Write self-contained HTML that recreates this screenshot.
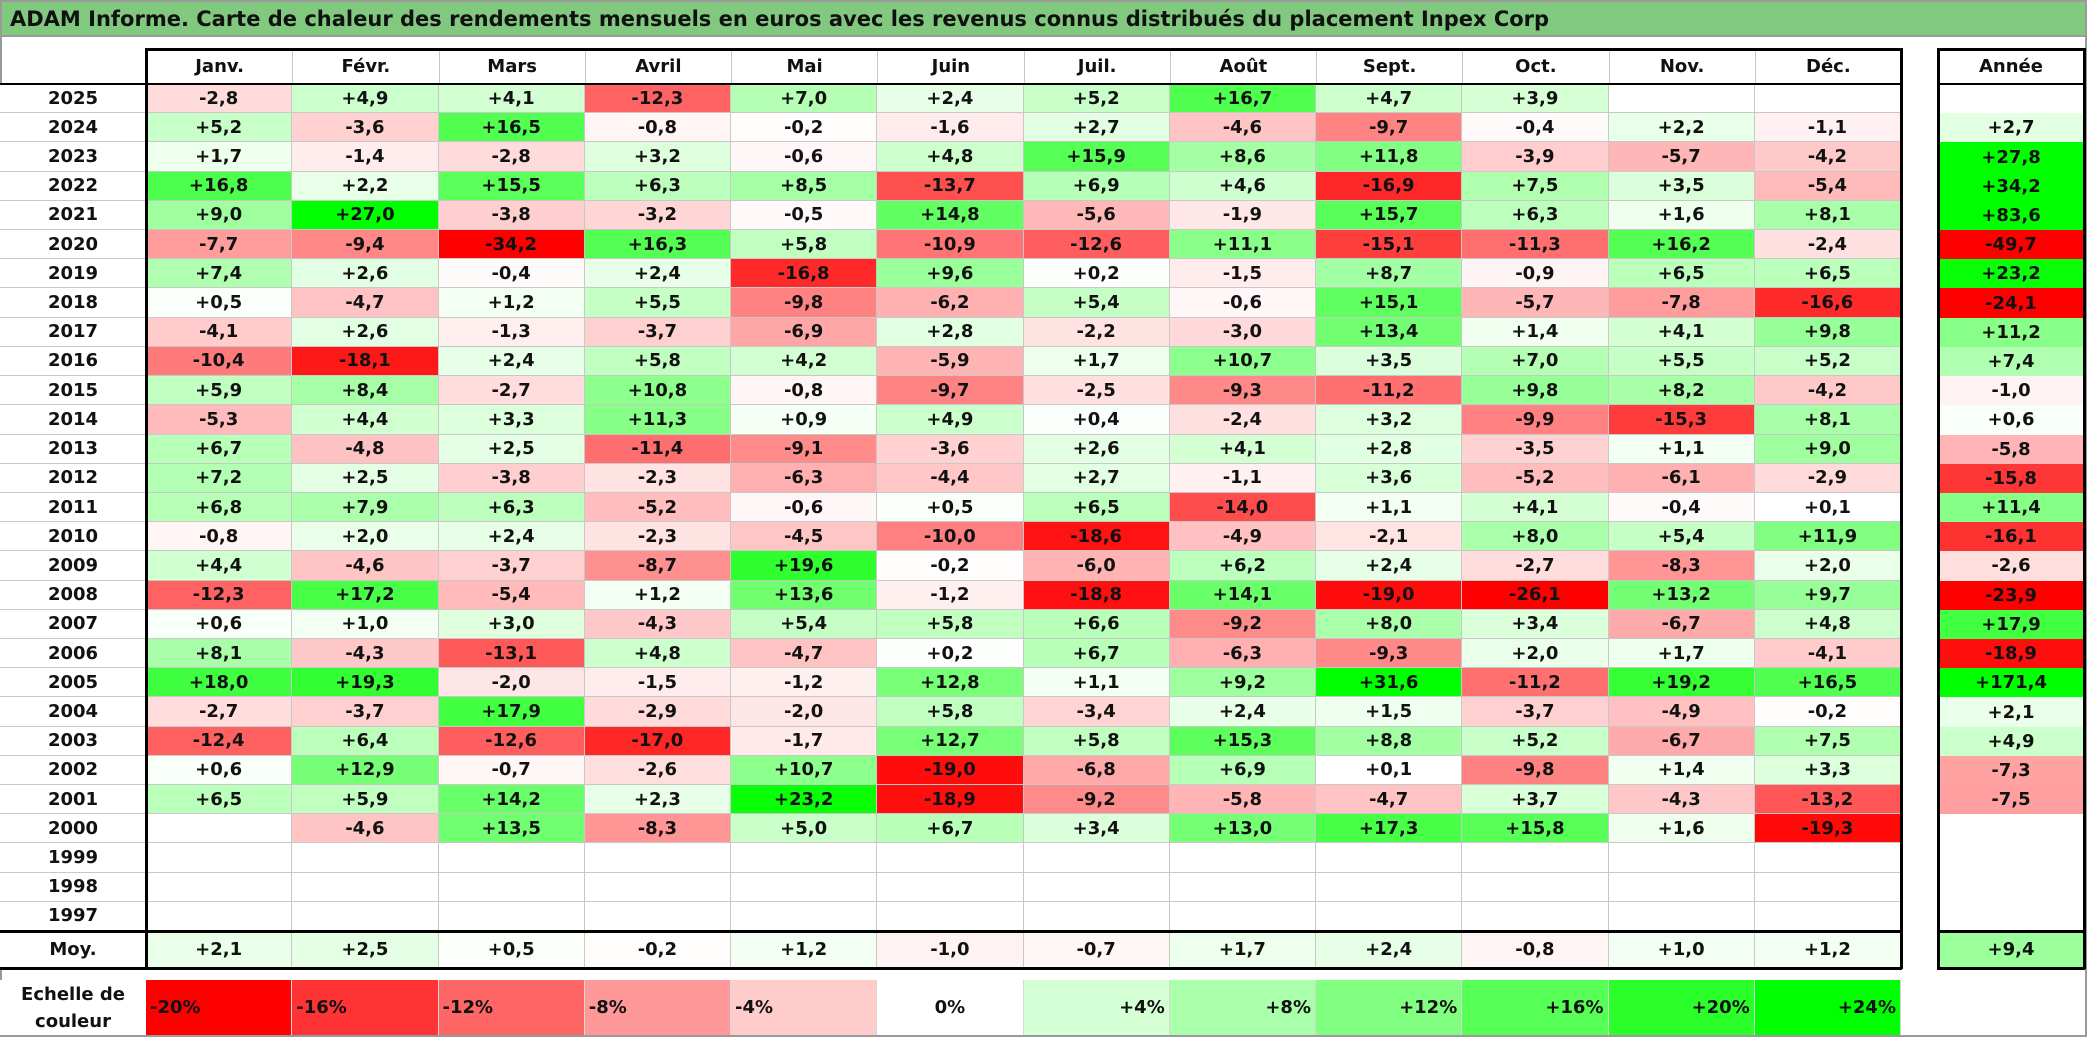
<!DOCTYPE html>
<html><head><meta charset="utf-8">
<style>
html,body{margin:0;padding:0;background:#fff;}
#root{position:relative;width:2087px;height:1037px;overflow:hidden;font-family:"DejaVu Sans","Liberation Sans",sans-serif;font-weight:bold;color:#111;}
.c{position:absolute;box-sizing:border-box;display:flex;align-items:center;justify-content:center;font-size:18px;white-space:nowrap;}
.ln{position:absolute;}
</style></head>
<body>
<div id="root">
  <div class="ln" style="left:0;top:0;width:2087px;height:37px;background:#80c97f;border:2px solid #9a9a9a;box-sizing:border-box;"></div>
  <div class="c" style="left:10px;top:2px;height:33px;font-size:21px;justify-content:flex-start;">ADAM Informe. Carte de chaleur des rendements mensuels en euros avec les revenus connus distribués du placement Inpex Corp</div>
  <div class="ln" style="left:0;top:0;width:2087px;height:1037px;border:2px solid #9a9a9a;box-sizing:border-box;"></div>
</div>
<script>
const months = ["Janv.","Févr.","Mars","Avril","Mai","Juin","Juil.","Août","Sept.","Oct.","Nov.","Déc."];
const years = ["2025","2024","2023","2022","2021","2020","2019","2018","2017","2016","2015","2014","2013","2012","2011","2010","2009","2008","2007","2006","2005","2004","2003","2002","2001","2000","1999","1998","1997"];
const returns = [
[-2.8,4.9,4.1,-12.3,7.0,2.4,5.2,16.7,4.7,3.9,null,null],
[5.2,-3.6,16.5,-0.8,-0.2,-1.6,2.7,-4.6,-9.7,-0.4,2.2,-1.1],
[1.7,-1.4,-2.8,3.2,-0.6,4.8,15.9,8.6,11.8,-3.9,-5.7,-4.2],
[16.8,2.2,15.5,6.3,8.5,-13.7,6.9,4.6,-16.9,7.5,3.5,-5.4],
[9.0,27.0,-3.8,-3.2,-0.5,14.8,-5.6,-1.9,15.7,6.3,1.6,8.1],
[-7.7,-9.4,-34.2,16.3,5.8,-10.9,-12.6,11.1,-15.1,-11.3,16.2,-2.4],
[7.4,2.6,-0.4,2.4,-16.8,9.6,0.2,-1.5,8.7,-0.9,6.5,6.5],
[0.5,-4.7,1.2,5.5,-9.8,-6.2,5.4,-0.6,15.1,-5.7,-7.8,-16.6],
[-4.1,2.6,-1.3,-3.7,-6.9,2.8,-2.2,-3.0,13.4,1.4,4.1,9.8],
[-10.4,-18.1,2.4,5.8,4.2,-5.9,1.7,10.7,3.5,7.0,5.5,5.2],
[5.9,8.4,-2.7,10.8,-0.8,-9.7,-2.5,-9.3,-11.2,9.8,8.2,-4.2],
[-5.3,4.4,3.3,11.3,0.9,4.9,0.4,-2.4,3.2,-9.9,-15.3,8.1],
[6.7,-4.8,2.5,-11.4,-9.1,-3.6,2.6,4.1,2.8,-3.5,1.1,9.0],
[7.2,2.5,-3.8,-2.3,-6.3,-4.4,2.7,-1.1,3.6,-5.2,-6.1,-2.9],
[6.8,7.9,6.3,-5.2,-0.6,0.5,6.5,-14.0,1.1,4.1,-0.4,0.1],
[-0.8,2.0,2.4,-2.3,-4.5,-10.0,-18.6,-4.9,-2.1,8.0,5.4,11.9],
[4.4,-4.6,-3.7,-8.7,19.6,-0.2,-6.0,6.2,2.4,-2.7,-8.3,2.0],
[-12.3,17.2,-5.4,1.2,13.6,-1.2,-18.8,14.1,-19.0,-26.1,13.2,9.7],
[0.6,1.0,3.0,-4.3,5.4,5.8,6.6,-9.2,8.0,3.4,-6.7,4.8],
[8.1,-4.3,-13.1,4.8,-4.7,0.2,6.7,-6.3,-9.3,2.0,1.7,-4.1],
[18.0,19.3,-2.0,-1.5,-1.2,12.8,1.1,9.2,31.6,-11.2,19.2,16.5],
[-2.7,-3.7,17.9,-2.9,-2.0,5.8,-3.4,2.4,1.5,-3.7,-4.9,-0.2],
[-12.4,6.4,-12.6,-17.0,-1.7,12.7,5.8,15.3,8.8,5.2,-6.7,7.5],
[0.6,12.9,-0.7,-2.6,10.7,-19.0,-6.8,6.9,0.1,-9.8,1.4,3.3],
[6.5,5.9,14.2,2.3,23.2,-18.9,-9.2,-5.8,-4.7,3.7,-4.3,-13.2],
[null,-4.6,13.5,-8.3,5.0,6.7,3.4,13.0,17.3,15.8,1.6,-19.3],
[null,null,null,null,null,null,null,null,null,null,null,null],
[null,null,null,null,null,null,null,null,null,null,null,null],
[null,null,null,null,null,null,null,null,null,null,null,null]
];
const yearTotals = [null,2.7,27.8,34.2,83.6,-49.7,23.2,-24.1,11.2,7.4,-1.0,0.6,-5.8,-15.8,11.4,-16.1,-2.6,-23.9,17.9,-18.9,171.4,2.1,4.9,-7.3,-7.5,null,null,null,null];
const monthAvg = [2.1,2.5,0.5,-0.2,1.2,-1.0,-0.7,1.7,2.4,-0.8,1.0,1.2];
const avgTotal = 9.4;
const scaleSteps = [-20,-16,-12,-8,-4,0,4,8,12,16,20,24];

const root = document.getElementById('root');
const X0 = 146, CW = 146.25, Y0 = 84, RH = 29.21;
const AX = 1938, AW = 146;
const MOY_T = Y0 + years.length*RH, MOY_B = 968;
const xCol = i => X0 + i*CW;
const yRow = j => Y0 + j*RH;

function color(v){
  if(v===null) return '#ffffff';
  if(v>=0){const t=Math.min(v,24)/24;const k=Math.round(255*(1-t));return `rgb(${k},255,${k})`;}
  const t=Math.min(-v,20)/20;const k=Math.round(255*(1-t));return `rgb(255,${k},${k})`;
}
function fmt(v){ if(v===null) return ''; return (v>=0?'+':'')+v.toFixed(1).replace('.',','); }
function box(x,y,w,h,bg,txt,style){
  const d=document.createElement('div');
  d.className='c';
  d.style.left=x+'px';d.style.top=y+'px';d.style.width=w+'px';d.style.height=h+'px';
  if(bg) d.style.background=bg;
  if(style) d.style.cssText+=style;
  d.textContent=txt;
  root.appendChild(d);
  return d;
}
function line(x,y,w,h,c,name){
  const d=document.createElement('div');
  d.className='ln';
  
  
  d.style.left=x+'px';d.style.top=y+'px';d.style.width=w+'px';d.style.height=h+'px';d.style.background=c;
  root.appendChild(d);
}

months.forEach((m,i)=>{
  const d=box(xCol(i),48,CW,Y0-48,'#fff',m,'border-left:1px solid #c8c8c8;');
  
  
});
years.forEach((yr,j)=>{
  const l=box(0,yRow(j),X0,RH,'#fff',yr,'border-bottom:1px solid #c8c8c8;');
  
  
  returns[j].forEach((v,i)=>{
    const d=box(xCol(i),yRow(j),CW,RH,color(v),fmt(v),'border-right:1px solid #c8c8c8;border-bottom:1px solid #c8c8c8;');
    
    
  });
  const a=box(AX,yRow(j),AW,RH,color(yearTotals[j]),fmt(yearTotals[j]));
  
  
});
const ml=box(0,MOY_T,X0,MOY_B-MOY_T,'#fff','Moy.');


monthAvg.forEach((v,i)=>{
  const d=box(xCol(i),MOY_T,CW,MOY_B-MOY_T,color(v),fmt(v),'border-right:1px solid #c8c8c8;');
  
  
});
const at=box(AX,MOY_T,AW,MOY_B-MOY_T,color(avgTotal),fmt(avgTotal));


const ah=box(AX,48,AW,Y0-48,'#fff','Année');



const sl=box(0,980,X0,55,'#fff','Echelle de\ncouleur','white-space:pre;text-align:center;line-height:27px;');


scaleSteps.forEach((v,i)=>{
  const al = v<0?'flex-start':(v===0?'center':'flex-end');
  const d=box(xCol(i),980,CW,55,color(v),(v>0?'+':'')+v+'%','justify-content:'+al+';padding:0 4px;border-right:1px solid #d8d8d8;');
  
  
});

const B='#000';
line(X0-1,48,xCol(12)-X0+2,3,B,'header-top-border');
line(0,Y0-1,xCol(12)+1,2,B,'header-bottom-border');
line(X0-1,48,3,MOY_B-48,B,'label-column-border');
line(xCol(12)-1,48,3,MOY_B-48+1,B,'table-right-border');
line(0,MOY_T-1,xCol(12)+1,3,B,'average-top-border');
line(0,MOY_B-1,xCol(12)+1,3,B,'average-bottom-border');
line(AX-1,48,3,MOY_B-48+1,B,'year-box-left');
line(AX+AW-1,48,3,MOY_B-48+1,B,'year-box-right');
line(AX-1,48,AW+2,3,B,'year-box-top');
line(AX-1,Y0-1,AW+2,2,B,'year-box-header-line');
line(AX-1,MOY_T-1,AW+2,3,B,'year-box-avg-line');
line(AX-1,MOY_B-1,AW+2,3,B,'year-box-bottom');
</script>
</body></html>
